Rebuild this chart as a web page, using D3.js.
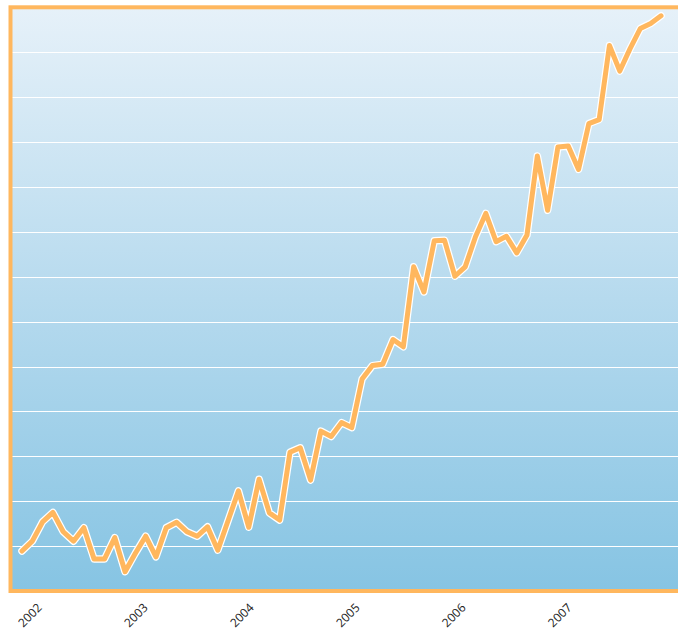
<!DOCTYPE html>
<html>
<head>
<meta charset="utf-8">
<script src="https://cdn.jsdelivr.net/npm/d3@7"></script>
<style>
  html, body { margin: 0; padding: 0; background: #ffffff; }
  svg { display: block; }
</style>
</head>
<body>
<div id="chart"></div>
<script>
// ---- data ----
const values = [
  8.9, 11.1, 15.4, 17.5, 13.2, 11.1, 14.1, 7.1, 7.1, 11.9,
  4.3, 8.4, 12.2, 7.6, 14.1, 15.3, 13.2, 12.2, 14.3, 9.1,
  15.7, 22.3, 14.2, 24.9, 17.4, 15.8, 30.9, 31.9, 24.7, 35.6,
  34.4, 37.5, 36.4, 47.2, 50.2, 50.5, 56.0, 54.4, 72.2, 66.6,
  78.0, 78.1, 70.1, 72.2, 78.9, 84.1, 77.8, 79.0, 75.3, 79.3,
  96.9, 84.8, 98.9, 99.1, 93.9, 104.1, 105.0, 121.5, 115.8, 120.8,
  125.3, 126.4, 128.1
];
const periodStart = 2001.81;   // first observation (fractional year)
const periodEnd = 2007.84;     // last observation (fractional year)
const yearTicks = [2002, 2003, 2004, 2005, 2006, 2007];
const yearLabels = ["2002", "2003", "2004", "2005", "2006", "2007"];
const gridValues = [10, 20, 30, 40, 50, 60, 70, 80, 90, 100, 110, 120, 130];
const yMax = 130;

// ---- layout ----
const W = 678, H = 630;
const frame = { left: 10.5, top: 7.3, bottom: 591, right: 700 };
const lineRange = [22, 661];

const svg = d3.select("#chart").append("svg")
  .attr("width", W).attr("height", H);

const defs = svg.append("defs");
const grad = defs.append("linearGradient")
  .attr("id", "bg").attr("x1", 0).attr("y1", 0).attr("x2", 0).attr("y2", 1);
grad.append("stop").attr("offset", "0%").attr("stop-color", "#e6f1f9");
grad.append("stop").attr("offset", "50%").attr("stop-color", "#b6daee");
grad.append("stop").attr("offset", "100%").attr("stop-color", "#86c4e3");

const x = d3.scaleLinear().domain([periodStart, periodEnd]).range(lineRange);
const t = d3.scaleLinear().domain([0, values.length - 1]).range([periodStart, periodEnd]);
const y = d3.scaleLinear().domain([0, yMax]).range([frame.bottom, frame.top]);

// background
svg.append("rect")
  .attr("x", frame.left).attr("y", frame.top)
  .attr("width", frame.right - frame.left).attr("height", frame.bottom - frame.top)
  .attr("fill", "url(#bg)");

// grid
svg.append("g").selectAll("line").data(gridValues.filter(v => v < yMax)).join("line")
  .attr("x1", frame.left).attr("x2", W)
  .attr("y1", d => Math.round(y(d)) + 0.5).attr("y2", d => Math.round(y(d)) + 0.5)
  .attr("stroke", "#ffffff").attr("stroke-width", 1.2);

// line
const line = d3.line()
  .x((d, i) => x(t(i)))
  .y(d => y(d));

svg.append("path").datum(values)
  .attr("d", line).attr("fill", "none")
  .attr("stroke", "#ffffff").attr("stroke-width", 7.5)
  .attr("stroke-linejoin", "round").attr("stroke-linecap", "round");
svg.append("path").datum(values)
  .attr("d", line).attr("fill", "none")
  .attr("stroke", "#ffb75e").attr("stroke-width", 5)
  .attr("stroke-linejoin", "round").attr("stroke-linecap", "round");

// frame border (left, top, bottom)
svg.append("rect")
  .attr("x", frame.left).attr("y", frame.top)
  .attr("width", frame.right - frame.left).attr("height", frame.bottom - frame.top)
  .attr("fill", "none").attr("stroke", "#ffb75e").attr("stroke-width", 4);

// x axis labels
const xAxis = d3.axisBottom(x)
  .tickValues(yearTicks)
  .tickFormat((d, i) => yearLabels[i])
  .tickSize(0);

const gx = svg.append("g")
  .attr("transform", `translate(0, ${frame.bottom})`)
  .call(xAxis);
gx.select(".domain").remove();
gx.selectAll("text")
  .attr("x", 0).attr("y", 0).attr("dy", 0)
  .attr("transform", "translate(0,17.5) rotate(-45)")
  .style("text-anchor", "end")
  .style("font-family", "'Open Sans', 'Noto Sans', sans-serif")
  .style("font-size", "12px")
  .style("fill", "#222");
</script>
</body>
</html>
